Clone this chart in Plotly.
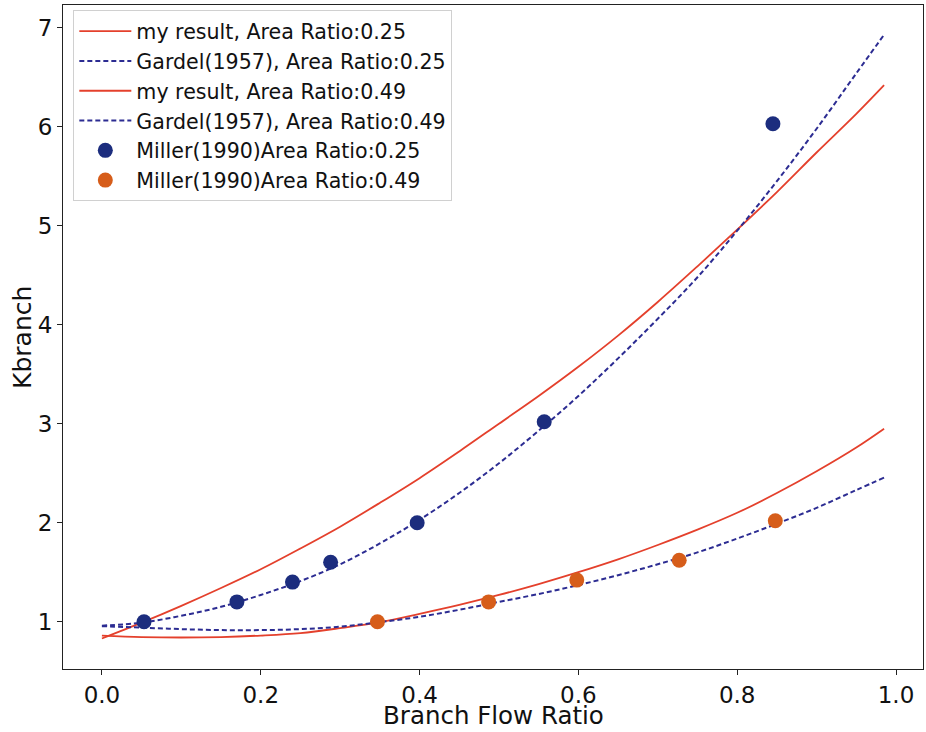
import plotly.graph_objects as go

# Branch flow ratio grid for the curves
q_curve = [0.0, 0.05, 0.10, 0.15, 0.20, 0.25, 0.30, 0.35, 0.40, 0.45, 0.50,
           0.55, 0.60, 0.65, 0.70, 0.75, 0.80, 0.85, 0.90, 0.95, 0.985]

my_result_025 = [0.83, 0.99, 1.16, 1.34, 1.53, 1.74, 1.96, 2.20, 2.45, 2.72, 3.00,
                 3.28, 3.575, 3.89, 4.23, 4.59, 4.96, 5.34, 5.74, 6.13, 6.42]
gardel_025 = [0.96, 0.99, 1.06, 1.15, 1.27, 1.41, 1.58, 1.79, 2.03, 2.30, 2.60,
              2.93, 3.28, 3.66, 4.06, 4.48, 4.95, 5.45, 5.98, 6.54, 6.93]
my_result_049 = [0.86, 0.845, 0.84, 0.845, 0.86, 0.885, 0.935, 0.995, 1.08, 1.17, 1.27,
                 1.38, 1.50, 1.63, 1.775, 1.93, 2.10, 2.30, 2.52, 2.76, 2.95]
gardel_049 = [0.955, 0.94, 0.925, 0.915, 0.915, 0.925, 0.95, 0.995, 1.05, 1.12, 1.20,
              1.28, 1.37, 1.47, 1.58, 1.70, 1.84, 1.99, 2.15, 2.33, 2.455]

miller_025_q = [0.053, 0.17, 0.24, 0.288, 0.397, 0.557, 0.845]
miller_025_k = [1.0, 1.2, 1.4, 1.6, 2.0, 3.02, 6.03]
miller_049_q = [0.347, 0.487, 0.598, 0.727, 0.848]
miller_049_k = [1.0, 1.2, 1.42, 1.62, 2.02]

x_ticks = [0.0, 0.2, 0.4, 0.6, 0.8, 1.0]
y_ticks = [1, 2, 3, 4, 5, 6, 7]

RED = "#e4402c"
NAVY_LINE = "#2c2c92"
NAVY_PT = "#1c2d7e"
ORANGE_PT = "#d65d1a"

fig = go.Figure()
fig.add_trace(go.Scatter(x=q_curve, y=my_result_025, mode="lines", line_shape="spline",
                         line=dict(color=RED, width=1.8), name="my result, Area Ratio:0.25"))
fig.add_trace(go.Scatter(x=q_curve, y=gardel_025, mode="lines", line_shape="spline",
                         line=dict(color=NAVY_LINE, width=2, dash="5px,3px"),
                         name="Gardel(1957), Area Ratio:0.25"))
fig.add_trace(go.Scatter(x=q_curve, y=my_result_049, mode="lines", line_shape="spline",
                         line=dict(color=RED, width=1.8), name="my result, Area Ratio:0.49"))
fig.add_trace(go.Scatter(x=q_curve, y=gardel_049, mode="lines", line_shape="spline",
                         line=dict(color=NAVY_LINE, width=2, dash="5px,3px"),
                         name="Gardel(1957), Area Ratio:0.49"))
fig.add_trace(go.Scatter(x=miller_025_q, y=miller_025_k, mode="markers",
                         marker=dict(color=NAVY_PT, size=15), name="Miller(1990)Area Ratio:0.25"))
fig.add_trace(go.Scatter(x=miller_049_q, y=miller_049_k, mode="markers",
                         marker=dict(color=ORANGE_PT, size=15), name="Miller(1990)Area Ratio:0.49"))

axis_common = dict(showgrid=False, zeroline=False, showline=True, linecolor="#222222",
                   linewidth=1.2, mirror=True, ticks="outside", ticklen=5, tickwidth=1,
                   tickcolor="#222222", tickfont=dict(size=23, color="#111111"),
                   automargin=False)

fig.update_layout(
    width=926, height=732,
    margin=dict(l=63, r=3, t=5, b=63),
    paper_bgcolor="white", plot_bgcolor="white",
    font=dict(family="DejaVu Sans", color="#111111"),
    xaxis=dict(range=[-0.049, 1.034], tickvals=x_ticks, ticktext=[f"{v:.1f}" for v in x_ticks],
               **axis_common),
    yaxis=dict(range=[0.522, 7.23], tickvals=y_ticks, ticktext=[str(v) for v in y_ticks],
               **axis_common),
    annotations=[
        dict(text="Kbranch", textangle=-90, xref="paper", yref="paper",
             x=-0.0477, y=0.5, xanchor="center", yanchor="middle", showarrow=False,
             font=dict(size=25, color="#111111")),
        dict(text="Branch Flow Ratio", xref="paper", yref="paper",
             x=0.5, y=-0.0905, xanchor="center", yanchor="bottom", showarrow=False,
             height=26, valign="middle", borderpad=0,
             font=dict(size=24.5, color="#111111")),
    ],
    legend=dict(x=0.012, y=0.992, xanchor="left", yanchor="top",
                bgcolor="rgba(255,255,255,0.85)", bordercolor="#d0d0d0", borderwidth=1,
                font=dict(size=20.6, color="#111111"), itemwidth=52, tracegroupgap=0),
    showlegend=True,
)

fig.write_html("out.html")
